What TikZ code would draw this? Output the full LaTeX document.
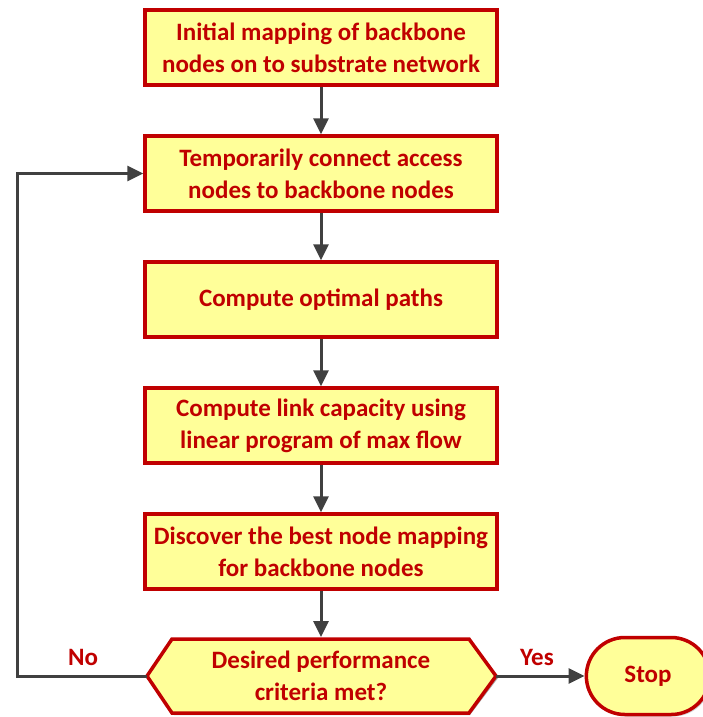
\documentclass[tikz,border=0pt]{standalone}
\usepackage{fontspec}
\setmainfont{Carlito}
\usetikzlibrary{arrows.meta,shapes.misc,shadows}
\definecolor{boxred}{HTML}{C00000}
\definecolor{boxfill}{HTML}{FFFF99}
\definecolor{arrgray}{HTML}{404040}
\begin{document}
\begin{tikzpicture}[x=1pt,y=-1pt,
  stepbox/.style={draw=boxred,line width=3.5pt,fill=boxfill,minimum width=352pt,minimum height=75pt,
    align=center,font=\fontsize{25}{32}\selectfont\bfseries,text=boxred,
    drop shadow={shadow xshift=2pt,shadow yshift=-2pt,opacity=0.35}},
  conn/.style={draw=arrgray,line width=3pt,-{Triangle[length=16pt,width=15pt]}},
  lbl/.style={font=\fontsize{25}{30}\selectfont\bfseries,text=boxred}]
\useasboundingbox (0,0) rectangle (702,717);
\node[stepbox] (b1) at (321,47.5) {Initial mapping of backbone\\nodes on to substrate network};
\node[stepbox] (b2) at (321,173.5) {Temporarily connect access\\nodes to backbone nodes};
\node[stepbox] (b3) at (321,299.5) {Compute optimal paths};
\node[stepbox] (b4) at (321,425.5) {Compute link capacity using\\linear program of max flow};
\node[stepbox] (b5) at (321,551.5) {Discover the best node mapping\\for backbone nodes};
% hexagon decision
\coordinate (hL) at (147,676);
\coordinate (hR) at (496,676);
\fill[black,opacity=0.35] (149,678) -- (174,641) -- (470,641) -- (498,678) -- (470,715) -- (174,715) -- cycle;
\draw[draw=boxred,line width=3.5pt,fill=boxfill,line join=miter] (hL) -- (172,639) -- (469,639) -- (hR) -- (469,713) -- (172,713) -- cycle;
\node[font=\fontsize{25}{32}\selectfont\bfseries,text=boxred,align=center] (d) at (321,676) {Desired performance\\criteria met?};
\node[stepbox,rounded rectangle,minimum width=130pt,minimum height=77pt] (stop) at (648,676) {Stop};
\draw[conn] (b1) -- (b2);
\draw[conn] (b2) -- (b3);
\draw[conn] (b3) -- (b4);
\draw[conn] (b4) -- (b5);
\draw[conn] (b5.south) -- (321,637);
\draw[conn] (hR) -- (stop.west);
\coordinate (lc1) at (17,676);
\coordinate (lc2) at (17,173.5);
\draw[conn] (hL) -- (lc1) -- (lc2) -- (b2.west);
\node[lbl] (no) at (83,657) {No};
\node[lbl] (yes) at (537,657) {Yes};
\end{tikzpicture}
\end{document}
